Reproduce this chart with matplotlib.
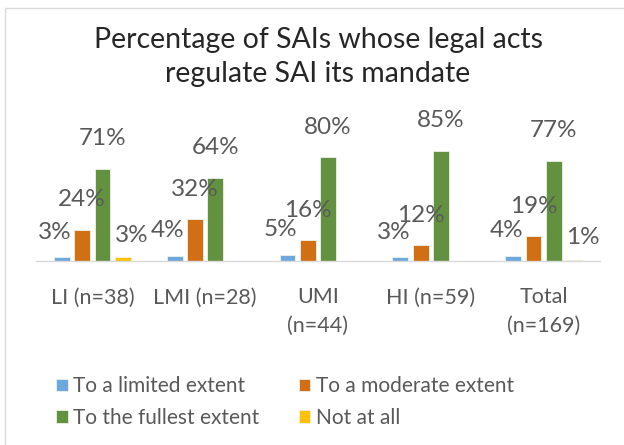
import matplotlib
matplotlib.use('Agg')
import matplotlib.pyplot as plt
import matplotlib as mpl
from matplotlib.patches import Rectangle

categories = ['LI (n=38)', 'LMI (n=28)', 'UMI\n(n=44)', 'HI (n=59)', 'Total\n(n=169)']
series = ['To a limited extent', 'To a moderate extent', 'To the fullest extent', 'Not at all']
limited = [3, 4, 5, 3, 4]
moderate = [24, 32, 16, 12, 19]
fullest = [71, 64, 80, 85, 77]
not_at_all = [3, 0, 0, 0, 1]

styles = {
    'To a limited extent':  {'color': '#6CA8DC', 'off': (-7, 25)},
    'To a moderate extent': {'color': '#D06F14', 'off': (0, 30)},
    'To the fullest extent': {'color': '#629140', 'off': (0, 30)},
    'Not at all':           {'color': '#FFC000', 'off': (9, 22)},
}

mpl.rcParams['font.family'] = ['Lato', 'DejaVu Sans']

fig = plt.figure(figsize=(6.24, 4.45), dpi=100)
fig.patches.append(Rectangle((5/624, -0.1), 1.1, (445-8)/445 + 0.1,
                             transform=fig.transFigure, fill=False,
                             edgecolor='#D9D9D9', linewidth=1.0))
ax = fig.add_axes([36/624, 184/445, 564/624, 130/445])

values = [limited, moderate, fullest, not_at_all]
step = 0.18
width = 0.14
handles = {}
for j, name in enumerate(series):
    xs = [i + (j - 1.5) * step for i in range(len(categories))]
    bars = ax.bar(xs, values[j], width, color=styles[name]['color'],
                  edgecolor='#EEF2EA', linewidth=0.6, label=name)
    handles[name] = bars
    for x, v in zip(xs, values[j]):
        if v > 0:
            ax.annotate('%d%%' % v, (x, v), xytext=styles[name]['off'],
                        textcoords='offset pixels', ha='center', va='center',
                        fontsize=17.5, color='#595959')

ax.set_xlim(-0.5, len(categories) - 0.5)
ax.set_ylim(0, 100)
ax.set_yticks([])
for s in ['top', 'right', 'left']:
    ax.spines[s].set_visible(False)
ax.spines['bottom'].set_color('#D9D9D9')
ax.spines['bottom'].set_linewidth(1.0)
ax.set_xticks(range(len(categories)))
ax.set_xticklabels(categories, fontsize=15.5, color='#595959', linespacing=1.5)
ax.tick_params(axis='x', length=0, pad=19)

fig.text(318/624, 1 - 57/445, 'Percentage of SAIs whose legal acts\nregulate SAI its mandate',
         ha='center', va='center', fontsize=20.5, color='#262626', linespacing=1.4)

# legend is filled column by column, so order gives two rows as in the original
order = ['To a limited extent', 'To the fullest extent', 'To a moderate extent', 'Not at all']
fig.legend([handles[n] for n in order], order, loc='upper left',
           bbox_to_anchor=(46/624, 1 - 366/445), ncol=2,
           frameon=False, fontsize=15, labelcolor='#595959',
           handlelength=0.55, handleheight=0.55, handletextpad=0.25,
           columnspacing=1.9, labelspacing=0.55, borderpad=0)

plt.savefig('out.png', dpi=100)
